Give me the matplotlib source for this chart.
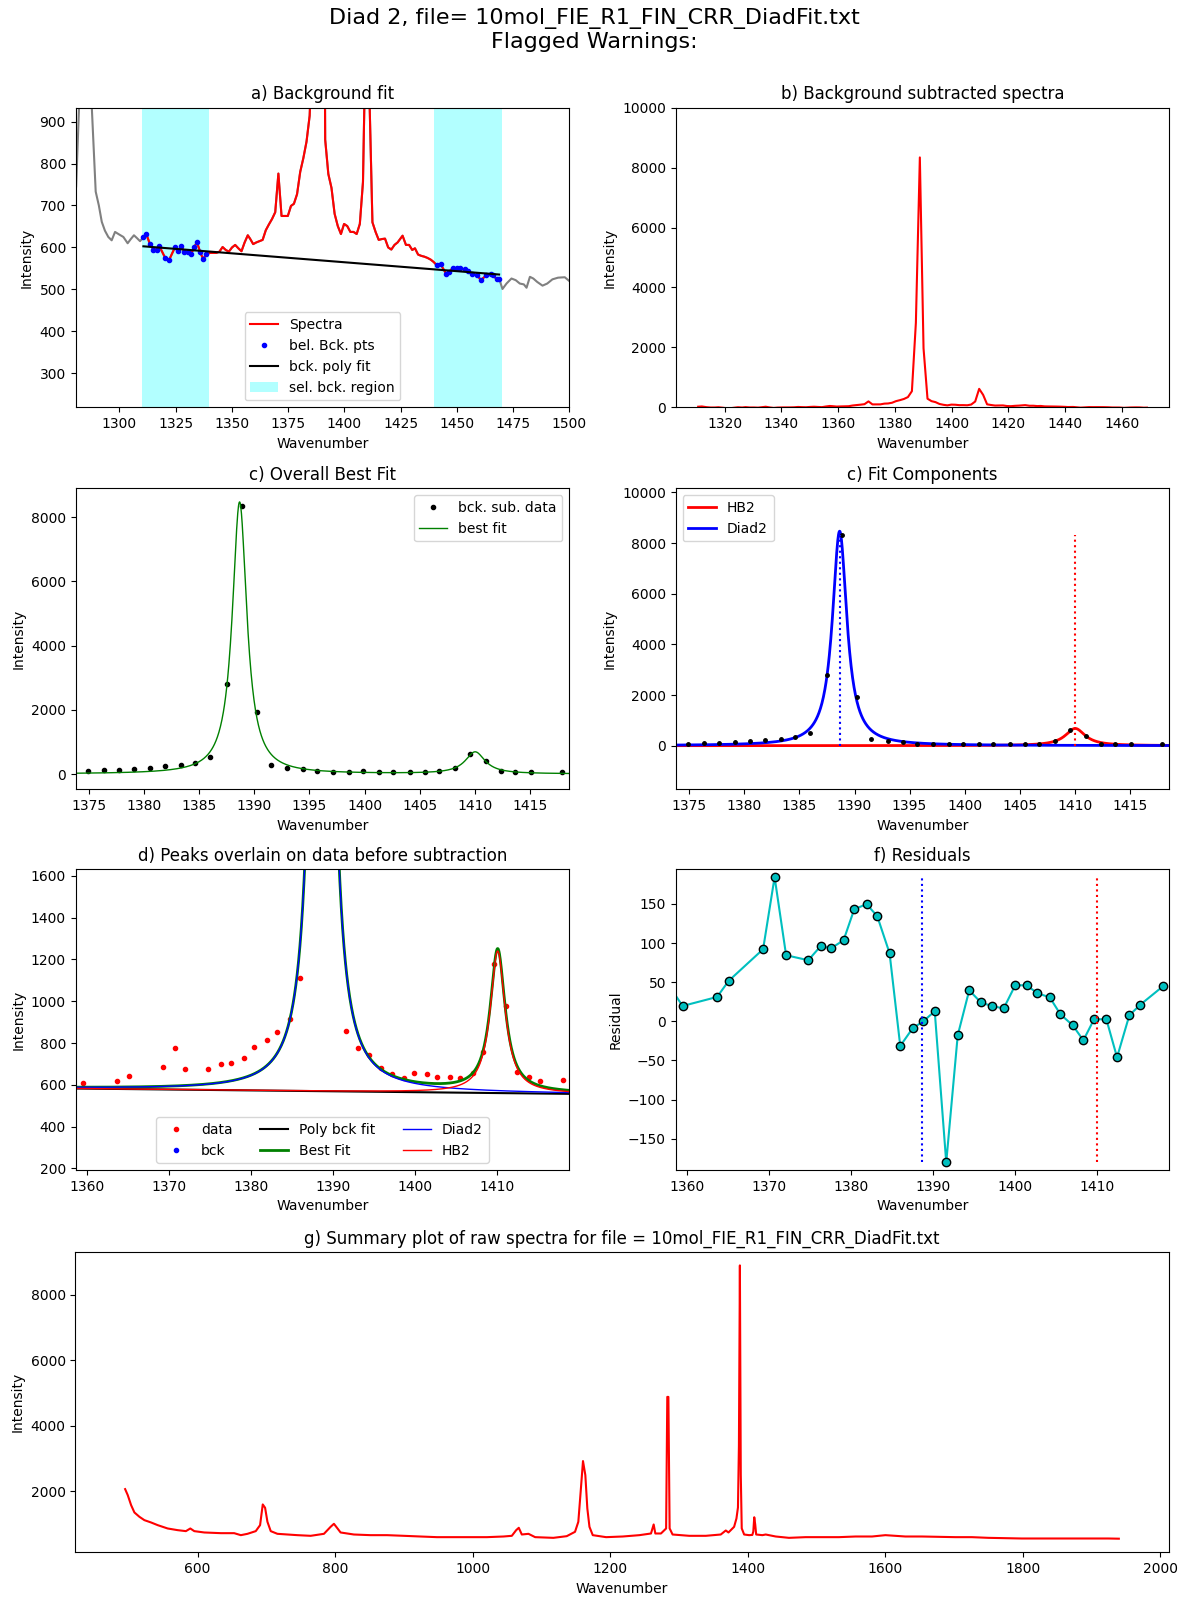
import matplotlib
matplotlib.use('Agg')
import matplotlib.pyplot as plt
import numpy as np

file_name = '10mol_FIE_R1_FIN_CRR_DiadFit.txt'

# raw spectrum around diad 2 (panel a)
spec_x = [1279.4, 1280.8, 1282.2, 1283.6, 1285.0, 1286.4, 1287.8, 1289.5, 1290.9, 1292.2,
          1293.6, 1295.1, 1296.6, 1298.1, 1299.9, 1301.8, 1303.7, 1305.1, 1306.5, 1307.9,
          1309.2,
          1310.7, 1312.0, 1313.6, 1315.1, 1316.6, 1317.8, 1320.3, 1322.2, 1324.7, 1326.2,
          1327.4, 1328.9, 1330.4, 1331.8, 1333.3, 1334.5, 1336.0, 1337.3, 1338.7,
          1340.3, 1341.7, 1343.1, 1344.5, 1345.9, 1347.3, 1348.7, 1350.1, 1351.5, 1352.9,
          1354.3, 1355.7, 1357.1, 1358.1, 1359.5, 1360.9, 1362.3, 1363.7, 1365.1, 1366.5,
          1367.9, 1369.3, 1370.7, 1372.1, 1374.9, 1376.3, 1377.6, 1379.0, 1380.4, 1381.8,
          1383.2, 1384.6, 1386.0, 1387.4, 1388.8, 1390.1, 1391.5, 1392.9, 1394.3, 1395.7,
          1397.1, 1398.5, 1399.9, 1401.3, 1402.7, 1404.1, 1405.5, 1406.9, 1408.3, 1409.7,
          1411.1, 1412.5, 1413.9, 1415.3, 1416.7, 1418.1, 1419.5, 1420.9, 1422.3, 1423.7,
          1425.9, 1427.4, 1428.8, 1430.2, 1431.4, 1432.8, 1434.2, 1435.6, 1437.0, 1438.4,
          1439.8,
          1441.0, 1442.8, 1445.4, 1446.6, 1448.4, 1449.9, 1451.4, 1453.6, 1455.1, 1456.6,
          1459.1, 1460.7, 1463.2, 1465.0, 1466.2, 1467.7, 1468.8,
          1470.3, 1472.1, 1474.3, 1476.2, 1478.0, 1479.8, 1481.0, 1482.5, 1484.0, 1485.7,
          1488.1, 1490.2, 1492.5, 1495.0, 1498.0, 1500.0, 1501.4]
spec_y = [680, 745, 950, 3200, 4900, 1250, 930, 733, 700, 661,
          640, 625, 617, 637, 631, 625, 610, 620, 629, 622,
          615,
          624, 632, 608, 595, 595, 603, 576, 571, 600, 591,
          603, 590, 590, 584, 600, 613, 588, 572, 584,
          587, 587, 587, 590, 601, 594, 590, 600, 606, 598,
          591, 612, 629, 621, 608, 612, 615, 618, 641, 655,
          668, 684, 776, 675, 675, 699, 704, 727, 780, 813,
          852, 914, 1110, 3390, 8910, 2540, 857, 775, 742, 680,
          651, 632, 656, 651, 637, 637, 632, 656, 756, 1178,
          976, 660, 637, 618, 620, 621, 600, 595, 606, 612,
          628, 606, 606, 594, 598, 583, 580, 578, 575, 571,
          565,
          558, 560, 536, 542, 552, 550, 550, 548, 544, 536,
          534, 522, 534, 536, 534, 524, 526,
          501, 514, 526, 522, 514, 512, 504, 530, 526, 518,
          509, 514, 524, 528, 529, 520, 522]

bck_regions = [(1310, 1340), (1440, 1470)]
# linear background fit (value at 1310, slope)
bck_at_1310 = 603.0
bck_slope = -0.425

# data in the fit window (panel d)
fit_x = [1359.5, 1363.7, 1365.1, 1369.3, 1370.7, 1372.0, 1374.8, 1376.3, 1377.6, 1379.1,
         1380.4, 1381.9, 1383.2, 1384.7, 1386.0, 1387.4, 1388.8, 1390.1, 1391.6, 1393.0,
         1394.4, 1395.8, 1397.2, 1398.6, 1399.9, 1401.4, 1402.7, 1404.2, 1405.5, 1407.0,
         1408.3, 1409.6, 1411.1, 1412.4, 1413.9, 1415.2, 1418.0]
fit_y = [608, 617, 641, 684, 775, 675, 675, 699, 704, 727,
         780, 813, 852, 914, 1110, 3390, 8910, 2540, 856, 775,
         742, 680, 651, 632, 656, 651, 637, 637, 632, 656,
         756, 1178, 976, 660, 637, 617, 622]

# background subtracted data (panel c)
sub_x = [1374.9, 1376.3, 1377.7, 1379.1, 1380.5, 1381.9, 1383.3, 1384.6, 1386.0, 1387.5,
         1388.85, 1390.2, 1391.5, 1393.0, 1394.4, 1395.7, 1397.1, 1398.6, 1399.9, 1401.3,
         1402.6, 1404.1, 1405.5, 1406.8, 1408.2, 1409.6, 1411.0, 1412.4, 1413.7, 1415.1,
         1417.9]
sub_y = [83, 114, 114, 145, 176, 239, 270, 332, 519, 2801,
         8330, 1919, 270, 176, 145, 83, 52, 52, 83, 52,
         52, 52, 52, 83, 176, 612, 394, 83, 52, 52,
         52]

# fitted peaks (lorentzian)
diad2_center, diad2_amp, diad2_hwhm = 1388.65, 8470, 0.8
hb2_center, hb2_amp, hb2_hwhm = 1410.05, 680, 1.1

# residuals
res_x = [1358.0, 1359.5, 1363.7, 1365.1, 1369.3, 1370.7, 1372.1, 1374.8, 1376.3, 1377.6,
         1379.1, 1380.4, 1381.9, 1383.2, 1384.7, 1386.0, 1387.5, 1388.8, 1390.2, 1391.6,
         1393.0, 1394.4, 1395.8, 1397.2, 1398.6, 1400.0, 1401.4, 1402.7, 1404.2, 1405.5,
         1407.0, 1408.3, 1409.6, 1411.1, 1412.4, 1413.9, 1415.2, 1418.0]
res_y = [43, 19.6, 31.1, 51.6, 92.1, 184.2, 84.4, 78.0, 95.9, 93.4,
         103.6, 143.2, 149.6, 134.3, 87.0, -31.5, -9.0, 0.0, 12.8, -180.3,
         -17.9, 39.6, 24.3, 19.2, 16.6, 46.0, 46.0, 35.8, 30.7, 9.0,
         -5.1, -24.3, 2.6, 2.6, -46.0, 7.7, 20.9, 44.8]

# whole raw spectrum (panel g)
raw_x = [494.6, 498.4, 503.3, 508.1, 515.4, 522.6, 532.3, 542.0, 556.5, 571.0,
         583.0, 589.4, 595.2, 609.7, 633.9, 653.2, 662.9, 672.6, 684.6, 690.9,
         694.8, 698.2, 701.6, 706.4, 716.1, 745.1, 764.5, 783.8, 793.5, 798.3,
         801.7, 808.0, 827.3, 851.5, 875.7, 899.9, 924.0, 948.2, 972.4, 996.6,
         1020.8, 1045.0, 1057.1, 1063.4, 1067.2, 1071.6, 1081.3, 1091.0, 1117.5, 1136.9,
         1149.0, 1153.8, 1157.2, 1160.6, 1164.0, 1166.9, 1170.0, 1174.8, 1194.2, 1218.4,
         1242.6, 1259.5, 1263.4, 1265.8, 1274.0, 1281.5, 1283.2, 1284.8, 1286.6, 1290.9,
         1315.1, 1339.3, 1361.0, 1368.3, 1372.2, 1380.4, 1383.8, 1386.0, 1387.4, 1388.8,
         1390.1, 1391.5, 1395.0, 1402.2, 1406.9, 1408.3, 1409.7, 1411.1, 1412.5, 1421.5,
         1426.4, 1440.9, 1460.2, 1484.4, 1508.6, 1532.8, 1557.0, 1581.1, 1600.5, 1629.5,
         1653.7, 1702.0, 1726.2, 1750.4, 1798.8, 1847.2, 1895.5, 1924.5, 1940.0]
raw_y = [2061, 1878, 1571, 1347, 1214, 1112, 1041, 959, 857, 806,
         776, 857, 776, 735, 714, 714, 653, 694, 776, 959,
         1592, 1490, 1061, 776, 694, 653, 633, 694, 908, 1000,
         908, 735, 673, 653, 653, 633, 612, 592, 592, 592,
         592, 612, 633, 806, 878, 673, 694, 592, 571, 622,
         755, 1061, 1980, 2918, 2490, 1469, 908, 653, 592, 612,
         653, 704, 980, 704, 704, 857, 4880, 4880, 860, 673,
         633, 633, 673, 796, 735, 908, 1163, 1500, 3400, 8900,
         2500, 860, 673, 653, 660, 760, 1200, 980, 673, 653,
         673, 612, 571, 592, 592, 592, 612, 612, 653, 612,
         612, 592, 592, 571, 551, 551, 551, 551, 545]


def lorentz(x, center, amp, hwhm):
    return amp / (1 + ((x - center) / hwhm) ** 2)


def bck_line(x):
    return bck_at_1310 + bck_slope * (np.asarray(x) - 1310)


spec_x = np.array(spec_x)
spec_y = np.array(spec_y)
in_bck = np.zeros(len(spec_x), dtype=bool)
for lo, hi in bck_regions:
    in_bck |= (spec_x >= lo) & (spec_x <= hi)
in_red = (spec_x >= bck_regions[0][0]) & (spec_x <= bck_regions[1][1])

fig = plt.figure(figsize=(11.88, 16.05), dpi=100)
fig.suptitle('Diad 2, file= ' + file_name + '\nFlagged Warnings:', fontsize=16, y=0.995)

w = 0.4155
ax1 = fig.add_axes([0.0637, 0.7462, w, 0.1867])
ax2 = fig.add_axes([0.5688, 0.7462, w, 0.1867])
ax3 = fig.add_axes([0.0637, 0.5082, w, 0.1875])
ax4 = fig.add_axes([0.5688, 0.5082, w, 0.1875])
ax5 = fig.add_axes([0.0637, 0.2710, w, 0.1873])
ax6 = fig.add_axes([0.5688, 0.2710, w, 0.1873])
ax7 = fig.add_axes([0.0635, 0.0328, 0.9201, 0.1873])

# a) background fit
ax1.plot(spec_x, spec_y, '-', color='grey')
ax1.plot(spec_x[in_red], spec_y[in_red], '-r', label='Spectra')
ax1.plot(spec_x[in_bck], spec_y[in_bck], '.b', label='bel. Bck. pts')
xb = np.array([spec_x[in_bck].min(), spec_x[in_bck].max()])
ax1.plot(xb, bck_line(xb), '-k', label='bck. poly fit')
for i, (lo, hi) in enumerate(bck_regions):
    ax1.axvspan(lo, hi, color='cyan', alpha=0.3, lw=0,
                label='sel. bck. region' if i == 0 else None)
ax1.set_xlim(1280.6, 1500)
ax1.set_ylim(219, 933)
ax1.set_title('a) Background fit')
ax1.set_xlabel('Wavenumber')
ax1.set_ylabel('Intensity')
ax1.legend(loc='lower center')

# b) background subtracted spectra
ax2.plot(spec_x[in_red], spec_y[in_red] - bck_line(spec_x[in_red]), '-r')
ax2.set_ylim(0, 10000)
ax2.set_title('b) Background subtracted spectra')
ax2.set_xlabel('Wavenumber')
ax2.set_ylabel('Intensity')

# model curves
xm = np.linspace(1355, 1422, 2000)
diad2_fit = lorentz(xm, diad2_center, diad2_amp, diad2_hwhm)
hb2_fit = lorentz(xm, hb2_center, hb2_amp, hb2_hwhm)

# c) overall best fit
ax3.plot(sub_x, sub_y, '.k', label='bck. sub. data')
ax3.plot(xm, diad2_fit + hb2_fit, '-g', lw=1, label='best fit')
ax3.set_xlim(1373.76, 1418.6)
ax3.set_ylim(-477, 8892)
ax3.set_title('c) Overall Best Fit')
ax3.set_xlabel('Wavenumber')
ax3.set_ylabel('Intensity')
ax3.legend(loc='upper right')

# c) fit components
ax4.plot(xm, hb2_fit, '-r', lw=2, label='HB2')
ax4.plot(xm, diad2_fit, '-b', lw=2, label='Diad2')
ax4.plot(sub_x, sub_y, '.k', ms=5)
ax4.vlines(diad2_center, 0, max(sub_y), colors='b', linestyles=':')
ax4.vlines(hb2_center - 0.05, 0, max(sub_y), colors='r', linestyles=':')
ax4.set_xlim(1373.76, 1418.6)
ax4.set_ylim(-1724, 10158)
ax4.set_title('c) Fit Components')
ax4.set_xlabel('Wavenumber')
ax4.set_ylabel('Intensity')
ax4.legend(loc='upper left')

# d) peaks on data before subtraction
bck_m = bck_line(xm)
ax5.plot(fit_x, fit_y, '.r', label='data')
ax5.plot(spec_x[in_bck], spec_y[in_bck], '.b', label='bck')
ax5.plot(xm, bck_m, '-k', label='Poly bck fit')
ax5.plot(xm, bck_m + diad2_fit + hb2_fit, '-g', lw=2, label='Best Fit')
ax5.plot(xm, bck_m + diad2_fit, '-b', lw=1, label='Diad2')
ax5.plot(xm, bck_m + hb2_fit, '-r', lw=1, label='HB2')
ax5.set_xlim(1358.66, 1418.77)
ax5.set_ylim(192, 1631)
ax5.set_title('d) Peaks overlain on data before subtraction')
ax5.set_xlabel('Wavenumber')
ax5.set_ylabel('Intensity')
ax5.legend(loc='lower center', ncol=3)

# f) residuals
ax6.plot(res_x, res_y, '-c')
ax6.plot(res_x, res_y, 'o', mfc='c', mec='k', ms=6)
ax6.vlines(diad2_center, min(res_y), max(res_y), colors='b', linestyles=':')
ax6.vlines(hb2_center - 0.05, min(res_y), max(res_y), colors='r', linestyles=':')
ax6.set_xlim(1358.66, 1418.77)
ax6.set_ylim(-190, 194)
ax6.set_title('f) Residuals')
ax6.set_xlabel('Wavenumber')
ax6.set_ylabel('Residual')

# g) summary raw spectrum
ax7.plot(raw_x, raw_y, '-r')
ax7.set_title('g) Summary plot of raw spectra for file = ' + file_name)
ax7.set_xlabel('Wavenumber')
ax7.set_ylabel('Intensity')

fig.savefig('out.png', dpi=100)
